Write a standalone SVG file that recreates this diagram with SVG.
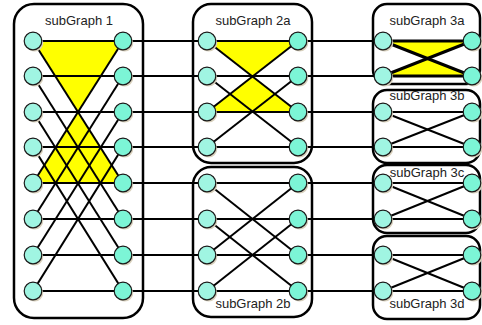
<svg xmlns="http://www.w3.org/2000/svg" width="482" height="325" viewBox="0 0 482 325">
<style>
.box{fill:#fff;stroke:#000;stroke-width:2.5}
.lbl{font-family:"Liberation Sans","DejaVu Sans",sans-serif;font-size:13px;fill:#222;text-anchor:middle}
.e{stroke:#000;stroke-width:2;fill:none}
.e3{stroke:#000;stroke-width:3;fill:none}
.y{fill:#ffff00;stroke:none}
.sh{fill:#d8d0bc}
.nl{fill:#a0f5e2;stroke:#1a1a1a;stroke-width:1.2}
.nr{fill:#7cf5d6;stroke:#1a1a1a;stroke-width:1.2}
</style>
<defs>
<g id="L"><circle cx="1.5" cy="1.8" r="8.8" class="sh"/><circle r="8.8" class="nl"/></g>
<g id="R"><circle cx="1.5" cy="1.8" r="8.8" class="sh"/><circle r="8.8" class="nr"/></g>
</defs>
<g id="boxes">
<rect id="sg1-box" class="box" x="14" y="4" width="129" height="314" rx="20"/>
<rect id="sg2a-box" class="box" x="193" y="4" width="119" height="159" rx="18"/>
<rect id="sg2b-box" class="box" x="193" y="167" width="119" height="150" rx="18"/>
<rect id="sg3a-box" class="box" x="373" y="4" width="107" height="80" rx="14"/>
<rect id="sg3b-box" class="box" x="373" y="90" width="107" height="73" rx="14"/>
<rect id="sg3c-box" class="box" x="373" y="165" width="107" height="68" rx="14"/>
<rect id="sg3d-box" class="box" x="373" y="236" width="107" height="83" rx="14"/>
</g>
<g id="highlights">
<polygon class="y" points="33,41 123,41 78,112 123,183 33,183 78,112"/>
<polygon class="y" points="207,41 298,41 252.5,76.5 298,112 207,112 252.5,76.5"/>
<polygon class="y" points="383,41 472,41 427.5,58.5 472,76 383,76 427.5,58.5"/>
</g>
<g id="connectors">
<!-- subGraph 1 -->
<line class="e" x1="33" y1="41" x2="123" y2="41"/>
<line class="e" x1="33" y1="76" x2="123" y2="76"/>
<line class="e" x1="33" y1="112" x2="123" y2="112"/>
<line class="e" x1="33" y1="147" x2="123" y2="147"/>
<line class="e" x1="33" y1="183" x2="123" y2="183"/>
<line class="e" x1="33" y1="219" x2="123" y2="219"/>
<line class="e" x1="33" y1="255" x2="123" y2="255"/>
<line class="e" x1="33" y1="291" x2="123" y2="291"/>
<line class="e" x1="33" y1="41" x2="123" y2="183"/>
<line class="e" x1="33" y1="76" x2="123" y2="219"/>
<line class="e" x1="33" y1="112" x2="123" y2="255"/>
<line class="e" x1="33" y1="147" x2="123" y2="291"/>
<line class="e" x1="123" y1="41" x2="33" y2="183"/>
<line class="e" x1="123" y1="76" x2="33" y2="219"/>
<line class="e" x1="123" y1="112" x2="33" y2="255"/>
<line class="e" x1="123" y1="147" x2="33" y2="291"/>
<!-- 1 to 2 -->
<line class="e" x1="123" y1="41" x2="207" y2="41"/>
<line class="e" x1="123" y1="76" x2="207" y2="76"/>
<line class="e" x1="123" y1="112" x2="207" y2="112"/>
<line class="e" x1="123" y1="147" x2="207" y2="147"/>
<line class="e" x1="123" y1="183" x2="207" y2="183"/>
<line class="e" x1="123" y1="219" x2="207" y2="219"/>
<line class="e" x1="123" y1="255" x2="207" y2="255"/>
<line class="e" x1="123" y1="291" x2="207" y2="291"/>
<!-- subGraph 2a -->
<line class="e" x1="207" y1="41" x2="298" y2="41"/>
<line class="e" x1="207" y1="76" x2="298" y2="76"/>
<line class="e" x1="207" y1="112" x2="298" y2="112"/>
<line class="e" x1="207" y1="147" x2="298" y2="147"/>
<line class="e" x1="207" y1="41" x2="298" y2="112"/>
<line class="e" x1="207" y1="76" x2="298" y2="147"/>
<line class="e" x1="207" y1="112" x2="298" y2="41"/>
<line class="e" x1="207" y1="147" x2="298" y2="76"/>
<!-- subGraph 2b -->
<line class="e" x1="207" y1="183" x2="298" y2="183"/>
<line class="e" x1="207" y1="219" x2="298" y2="219"/>
<line class="e" x1="207" y1="255" x2="298" y2="255"/>
<line class="e" x1="207" y1="291" x2="298" y2="291"/>
<line class="e" x1="207" y1="183" x2="298" y2="255"/>
<line class="e" x1="207" y1="219" x2="298" y2="291"/>
<line class="e" x1="207" y1="255" x2="298" y2="183"/>
<line class="e" x1="207" y1="291" x2="298" y2="219"/>
<!-- 2 to 3 -->
<line class="e" x1="298" y1="41" x2="383" y2="41"/>
<line class="e" x1="298" y1="76" x2="383" y2="76"/>
<line class="e" x1="298" y1="112" x2="383" y2="112"/>
<line class="e" x1="298" y1="147" x2="383" y2="147"/>
<line class="e" x1="298" y1="183" x2="383" y2="183"/>
<line class="e" x1="298" y1="219" x2="383" y2="219"/>
<line class="e" x1="298" y1="255" x2="383" y2="255"/>
<line class="e" x1="298" y1="291" x2="383" y2="291"/>
<!-- subGraph 3a -->
<line class="e3" x1="383" y1="41" x2="472" y2="41"/>
<line class="e3" x1="383" y1="76" x2="472" y2="76"/>
<line class="e3" x1="383" y1="41" x2="472" y2="76"/>
<line class="e3" x1="383" y1="76" x2="472" y2="41"/>
<!-- subGraph 3b -->
<line class="e" x1="383" y1="112" x2="472" y2="112"/>
<line class="e" x1="383" y1="147" x2="472" y2="147"/>
<line class="e" x1="383" y1="112" x2="472" y2="147"/>
<line class="e" x1="383" y1="147" x2="472" y2="112"/>
<!-- subGraph 3c -->
<line class="e" x1="383" y1="183" x2="472" y2="183"/>
<line class="e" x1="383" y1="219" x2="472" y2="219"/>
<line class="e" x1="383" y1="183" x2="472" y2="219"/>
<line class="e" x1="383" y1="219" x2="472" y2="183"/>
<!-- subGraph 3d -->
<line class="e" x1="383" y1="255" x2="472" y2="255"/>
<line class="e" x1="383" y1="291" x2="472" y2="291"/>
<line class="e" x1="383" y1="255" x2="472" y2="291"/>
<line class="e" x1="383" y1="291" x2="472" y2="255"/>
</g>
<g id="sg1">
<text class="lbl" x="79" y="25">subGraph 1</text>
<use href="#L" x="33" y="41"/><use href="#L" x="33" y="76"/><use href="#L" x="33" y="112"/><use href="#L" x="33" y="147"/>
<use href="#L" x="33" y="183"/><use href="#L" x="33" y="219"/><use href="#L" x="33" y="255"/><use href="#L" x="33" y="291"/>
<use href="#R" x="123" y="41"/><use href="#R" x="123" y="76"/><use href="#R" x="123" y="112"/><use href="#R" x="123" y="147"/>
<use href="#R" x="123" y="183"/><use href="#R" x="123" y="219"/><use href="#R" x="123" y="255"/><use href="#R" x="123" y="291"/>
</g>
<g id="sg2a">
<text class="lbl" x="253" y="25">subGraph 2a</text>
<use href="#L" x="207" y="41"/><use href="#L" x="207" y="76"/><use href="#L" x="207" y="112"/><use href="#L" x="207" y="147"/>
<use href="#R" x="298" y="41"/><use href="#R" x="298" y="76"/><use href="#R" x="298" y="112"/><use href="#R" x="298" y="147"/>
</g>
<g id="sg2b">
<text class="lbl" x="253" y="308">subGraph 2b</text>
<use href="#L" x="207" y="183"/><use href="#L" x="207" y="219"/><use href="#L" x="207" y="255"/><use href="#L" x="207" y="291"/>
<use href="#R" x="298" y="183"/><use href="#R" x="298" y="219"/><use href="#R" x="298" y="255"/><use href="#R" x="298" y="291"/>
</g>
<g id="sg3a">
<text class="lbl" x="427" y="25">subGraph 3a</text>
<use href="#L" x="383" y="41"/><use href="#L" x="383" y="76"/>
<use href="#R" x="472" y="41"/><use href="#R" x="472" y="76"/>
</g>
<g id="sg3b">
<text class="lbl" x="427" y="100">subGraph 3b</text>
<use href="#L" x="383" y="112"/><use href="#L" x="383" y="147"/>
<use href="#R" x="472" y="112"/><use href="#R" x="472" y="147"/>
</g>
<g id="sg3c">
<text class="lbl" x="427" y="177">subGraph 3c</text>
<use href="#L" x="383" y="183"/><use href="#L" x="383" y="219"/>
<use href="#R" x="472" y="183"/><use href="#R" x="472" y="219"/>
</g>
<g id="sg3d">
<text class="lbl" x="427" y="308">subGraph 3d</text>
<use href="#L" x="383" y="255"/><use href="#L" x="383" y="291"/>
<use href="#R" x="472" y="255"/><use href="#R" x="472" y="291"/>
</g>
</svg>
